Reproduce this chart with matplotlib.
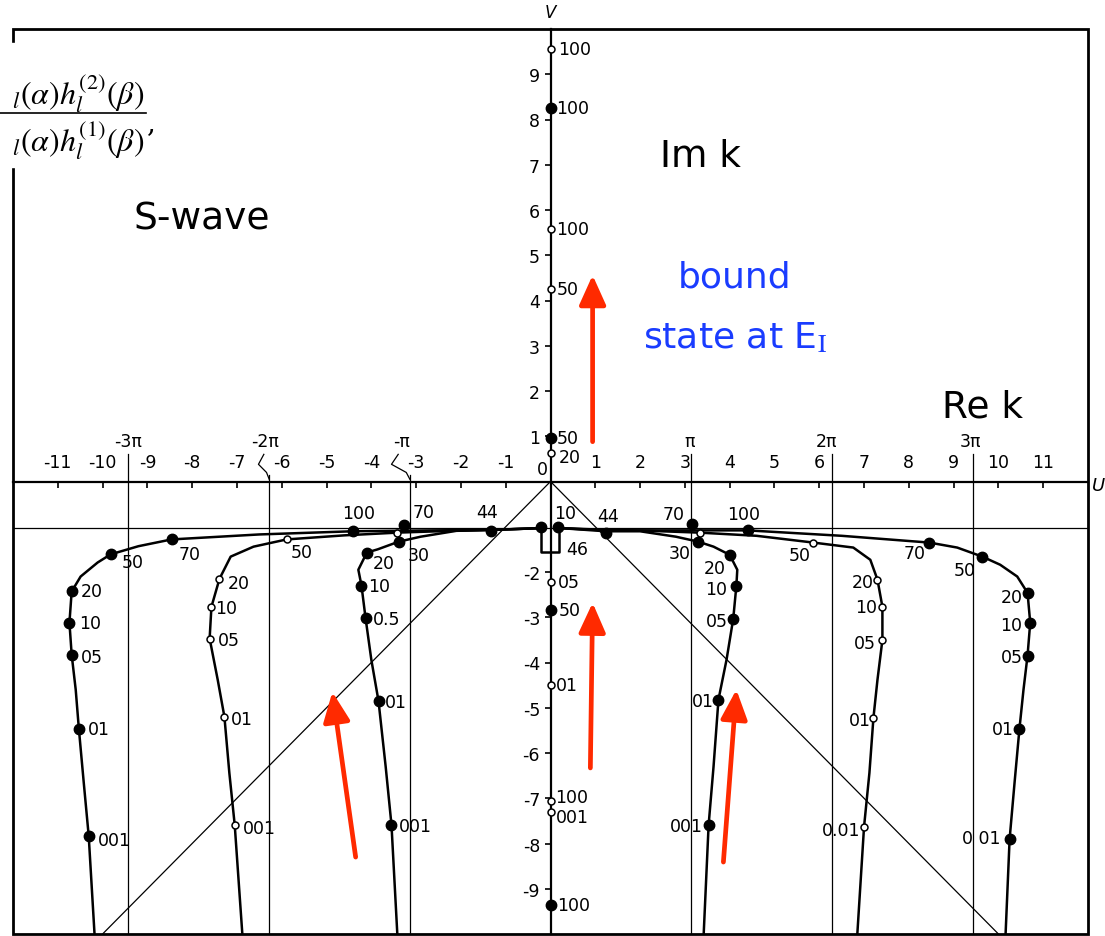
"""
S-wave pole trajectories in the complex k plane (scan redraw)
"""

import matplotlib.pyplot as plt
from matplotlib.patches import Rectangle
from matplotlib.lines import Line2D

plt.rcParams['font.family'] = ['DejaVu Sans']
plt.rcParams['axes.unicode_minus'] = False
plt.rcParams['mathtext.fontset'] = 'stix'

W, H = 1105, 937

# axis ticks (u = Re k, v = Im k)
u_ticks = [-11, -10, -9, -8, -7, -6, -5, -4, -3, -2, -1, 1, 2, 3, 4, 5, 6, 7, 8, 9, 10, 11]
v_ticks = [-9, -8, -7, -6, -5, -4, -3, -2, 1, 2, 3, 4, 5, 6, 7, 8, 9]
pi_mult = [-3, -2, -1, 1, 2, 3]
pi_names = ['-3π', '-2π', '-π', 'π', '2π', '3π']

# trajectories
left3_u = [-10.18, -10.31, -10.42, -10.53, -10.60, -10.69, -10.74, -10.69, -10.49, -10.11, -9.82, -9.20, -8.46, -6.50, -4.42, -2.60, -1.32, -0.22]
left3_v = [-10.0, -7.83, -6.66, -5.46, -4.60, -3.83, -3.12, -2.43, -2.10, -1.79, -1.61, -1.43, -1.28, -1.17, -1.10, -1.08, -1.07, -1.03]
left2_u = [-6.88, -7.05, -7.17, -7.28, -7.43, -7.61, -7.57, -7.39, -7.14, -6.63, -5.89, -4.60, -3.42, -2.20, -1.00, -0.22]
left2_v = [-10.0, -7.59, -6.44, -5.20, -4.38, -3.47, -2.77, -2.15, -1.66, -1.44, -1.28, -1.19, -1.13, -1.09, -1.06, -1.03]
left1_u = [-3.42, -3.55, -3.68, -3.84, -4.00, -4.13, -4.22, -4.29, -4.10, -3.86, -3.39, -2.90, -2.10, -1.32, -0.22]
left1_v = [-10.0, -7.59, -6.30, -4.85, -3.94, -3.01, -2.30, -1.95, -1.57, -1.50, -1.33, -1.22, -1.09, -1.07, -1.03]
right1_u = [3.42, 3.53, 3.64, 3.75, 3.93, 4.08, 4.15, 4.17, 4.00, 3.64, 3.30, 2.80, 2.00, 1.23, 0.22]
right1_v = [-10.0, -7.59, -6.30, -4.82, -3.94, -3.03, -2.30, -1.95, -1.62, -1.44, -1.33, -1.22, -1.10, -1.10, -1.03]
right2_u = [6.85, 7.00, 7.12, 7.21, 7.30, 7.41, 7.41, 7.30, 7.14, 6.76, 5.87, 4.60, 3.33, 2.20, 1.00, 0.22]
right2_v = [-10.0, -7.63, -6.44, -5.22, -4.38, -3.50, -2.77, -2.17, -1.73, -1.46, -1.35, -1.20, -1.13, -1.09, -1.06, -1.03]
right3_u = [10.16, 10.25, 10.36, 10.47, 10.56, 10.65, 10.71, 10.65, 10.42, 10.04, 9.64, 9.08, 8.46, 6.50, 4.40, 2.60, 1.23, 0.22]
right3_v = [-10.0, -7.90, -6.66, -5.46, -4.60, -3.85, -3.12, -2.46, -2.10, -1.84, -1.66, -1.46, -1.35, -1.20, -1.08, -1.08, -1.08, -1.03]
loop_u = [-0.22, -0.22, 0.20, 0.20]
loop_v = [-1.00, -1.55, -1.55, -1.00]

# marked points: filled dots
filled_u = [-10.31, -10.53, -10.69, -10.74, -10.69, -9.82, -8.46, -4.42,
            -3.55, -3.84, -4.13, -4.22, -4.10, -3.39, -3.26, -1.32, -0.22,
            3.53, 3.75, 4.08, 4.15, 4.00, 3.30, 3.17, 1.23, 0.16,
            10.25, 10.47, 10.65, 10.71, 10.65, 9.64, 8.46, 4.40,
            0, 0, 0, 0]
filled_v = [-7.83, -5.46, -3.83, -3.12, -2.43, -1.61, -1.28, -1.10,
            -7.59, -4.85, -3.01, -2.30, -1.57, -1.33, -0.97, -1.10, -1.00,
            -7.59, -4.82, -3.03, -2.30, -1.62, -1.33, -0.95, -1.13, -1.00,
            -7.90, -5.46, -3.85, -3.12, -2.46, -1.66, -1.35, -1.08,
            8.25, 0.97, -2.83, -9.36]
filled_lab = ['001', '01', '05', '10', '20', '50', '70', '100',
              '001', '01', '0.5', '10', '20', '30', '70', '44', '',
              '001', '01', '05', '10', '20', '30', '70', '44', '10',
              '0 01', '01', '05', '10', '20', '50', '70', '100',
              '100', '50', '50', '100']

# marked points: open circles
open_u = [-7.05, -7.28, -7.61, -7.57, -7.39, -5.89, -3.42,
          7.00, 7.21, 7.41, 7.41, 7.30, 5.87, 3.33,
          0, 0, 0, 0, 0, 0, 0, 0]
open_v = [-7.59, -5.20, -3.47, -2.77, -2.15, -1.28, -1.13,
          -7.63, -5.22, -3.50, -2.77, -2.17, -1.35, -1.13,
          9.56, 5.58, 4.25, 0.64, -2.23, -4.49, -7.06, -7.30]
open_lab = ['001', '01', '05', '10', '20', '50', '',
            '0.01', '01', '05', '10', '20', '50', '',
            '100', '100', '50', '20', '05', '01', '100', '001']

# label placement (pixels from the point, alignment)
filled_off = [(9, -4, 'left'), (9, 0, 'left'), (9, -2, 'left'), (10, 0, 'left'), (9, 0, 'left'),
              (11, -8, 'left'), (7, -15, 'left'), (6, 18, 'center'),
              (7, -1, 'left'), (6, -1, 'left'), (7, -1, 'left'), (7, 0, 'left'), (6, -10, 'left'),
              (9, -13, 'left'), (19, 13, 'center'), (-4, 19, 'center'), (0, 0, 'left'),
              (-6, -1, 'right'), (-5, -1, 'right'), (-5, -2, 'right'), (-9, -3, 'right'), (-4, -13, 'right'),
              (-8, -11, 'right'), (-19, 10, 'center'), (2, 17, 'center'), (7, 14, 'center'),
              (-9, 1, 'right'), (-6, 0, 'right'), (-5, -1, 'right'), (-8, -2, 'right'), (-5, -4, 'right'),
              (-7, -13, 'right'), (-4, -10, 'right'), (-4, 16, 'center'),
              (6, 0, 'left'), (6, 0, 'left'), (8, 0, 'left'), (7, 0, 'left')]
open_off = [(8, -3, 'left'), (6, -2, 'left'), (8, -1, 'left'), (4, -1, 'left'), (8, -4, 'left'),
            (4, -13, 'left'), (0, 0, 'left'),
            (-4, -3, 'right'), (-3, -2, 'right'), (-7, -3, 'right'), (-5, 0, 'right'), (-4, -2, 'right'),
            (-3, -12, 'right'), (0, 0, 'left'),
            (8, 0, 'left'), (6, 0, 'left'), (6, 0, 'left'), (8, -4, 'left'), (7, 0, 'left'),
            (5, 0, 'left'), (5, 4, 'left'), (5, -5, 'left')]


def px(x, y):
    # pixel of the 1105x937 picture -> figure fraction
    return x / W, 1 - y / H


fig = plt.figure(figsize=(W / 100, H / 100), dpi=100)
ax = fig.add_axes([13 / W, 2 / H, 1075 / W, 905 / H])
ax.set_xlim(-12, 12)
ax.set_ylim(-10, 10)

# axes through the origin
ax.spines['left'].set_position(('data', 0))
ax.spines['bottom'].set_position(('data', 0))
ax.spines['top'].set_position(('data', 0))
ax.spines['top'].set_visible(False)
ax.spines['right'].set_visible(False)
for s in ['left', 'bottom']:
    ax.spines[s].set_linewidth(1.6)

ax.set_xticks(u_ticks)
ax.set_xticklabels([str(t) for t in u_ticks])
ax.tick_params(axis='x', bottom=True, top=False, labelbottom=False, labeltop=True,
               direction='out', length=4.5, width=1.2, pad=3, labelsize=12.5)
ax.set_yticks(v_ticks)
ax.set_yticklabels([str(t) for t in v_ticks])
ax.tick_params(axis='y', left=True, right=False, direction='out', length=4.5,
               width=1.2, pad=3, labelsize=12.5)
ax.annotate('0', (0, 0), xytext=(-8, 12), textcoords='offset pixels',
            ha='center', va='center', fontsize=12.5)

# outer frame
ax.add_patch(Rectangle((0, 0), 1, 1, transform=ax.transAxes, fill=False,
                       lw=2, ec='black', clip_on=False, zorder=6))

# thin guide lines
ax.axhline(-1.02, color='black', lw=0.9, zorder=2)
ax.plot([0, -10], [0, -10], color='black', lw=0.9, zorder=2)
ax.plot([0, 10], [0, -10], color='black', lw=0.9, zorder=2)
pi_top = [0.6, 0.15, 0.15, 0.6, 0.6, 0.6]
pi_dx = [0, -4, -8, -2, -5, -2]
for m, name, top, dx in zip(pi_mult, pi_names, pi_top, pi_dx):
    x = m * 3.14159
    ax.plot([x, x], [top, -10], color='black', lw=0.9, zorder=2)
    ax.annotate(name, (x, 0.9), xytext=(dx, 0), textcoords='offset pixels',
                ha='center', va='center', fontsize=12.5)
# little leader squiggles for -2pi and -pi
ax.plot([-6.40, -6.52, -6.34, -6.28], [0.60, 0.38, 0.20, 0.05], color='black', lw=0.9)
ax.plot([-3.40, -3.55, -3.22, -3.14], [0.60, 0.38, 0.20, 0.05], color='black', lw=0.9)

# trajectories
for uu, vv in [(left3_u, left3_v), (left2_u, left2_v), (left1_u, left1_v),
               (right1_u, right1_v), (right2_u, right2_v), (right3_u, right3_v),
               (loop_u, loop_v)]:
    ax.plot(uu, vv, color='black', lw=1.8, zorder=3, solid_joinstyle='round')

ax.plot(filled_u, filled_v, 'o', ms=7.5, color='black', zorder=5)
ax.plot(open_u, open_v, 'o', ms=5, mfc='white', mec='black', mew=1.1, zorder=5)

for u, v, lab, (dx, dy, ha) in zip(filled_u + open_u, filled_v + open_v,
                                   filled_lab + open_lab, filled_off + open_off):
    if lab:
        ax.annotate(lab, (u, v), xytext=(dx, dy), textcoords='offset pixels',
                    ha=ha, va='center', fontsize=12.5, zorder=6)
ax.text(0.6, -1.5, '46', ha='center', va='center', fontsize=12.5)

# axis names
fig.text(*px(550, 13), 'V', ha='center', va='center', fontsize=12, style='italic')
fig.text(*px(1099, 486), 'U', ha='center', va='center', fontsize=13, style='italic')

# red arrows
for tail, tip in [((0.94, 0.88), (0.94, 4.56)), ((0.89, -6.33), (0.94, -2.68)),
                  ((-4.35, -8.30), (-4.87, -4.65)), ((3.86, -8.41), (4.15, -4.60))]:
    ax.annotate('', xy=tip, xytext=tail,
                arrowprops=dict(arrowstyle='-|>,head_length=1.0,head_width=0.45',
                                color='#ff2a00', lw=3.4, mutation_scale=18,
                                shrinkA=0, shrinkB=0), zorder=8)

# overlay text
fig.text(*px(202, 220), 'S-wave', ha='center', va='center', fontsize=27)
fig.text(*px(700, 157), 'Im k', ha='center', va='center', fontsize=27)
fig.text(*px(983, 408), 'Re k', ha='center', va='center', fontsize=27)
fig.text(*px(735, 277), 'bound', ha='center', va='center', fontsize=26, color='#1a3cff')
fig.text(*px(735, 338), r'state at E$_{\mathrm{I}}$', ha='center', va='center',
         fontsize=26, color='#1a3cff')

# clipped formula in the top-left corner
fig.add_artist(Rectangle(px(0, 168), 152 / W, 124 / H, transform=fig.transFigure,
                         color='white', zorder=10))
fig.text(*px(144, 93), r'$_{l}(\alpha)h_{l}^{(2)}(\beta)$', ha='right', va='center',
         fontsize=23, zorder=11)
fig.text(*px(144, 140), r'$_{l}(\alpha)h_{l}^{(1)}(\beta)$', ha='right', va='center',
         fontsize=23, zorder=11)
fig.text(*px(151, 124), ',', ha='center', va='center', fontsize=20, zorder=11,
         family='DejaVu Serif')
fig.add_artist(Line2D([0, 146 / W], [1 - 114 / H, 1 - 114 / H], transform=fig.transFigure,
                      color='black', lw=1.2, zorder=11))

fig.savefig('out.png', dpi=100)
